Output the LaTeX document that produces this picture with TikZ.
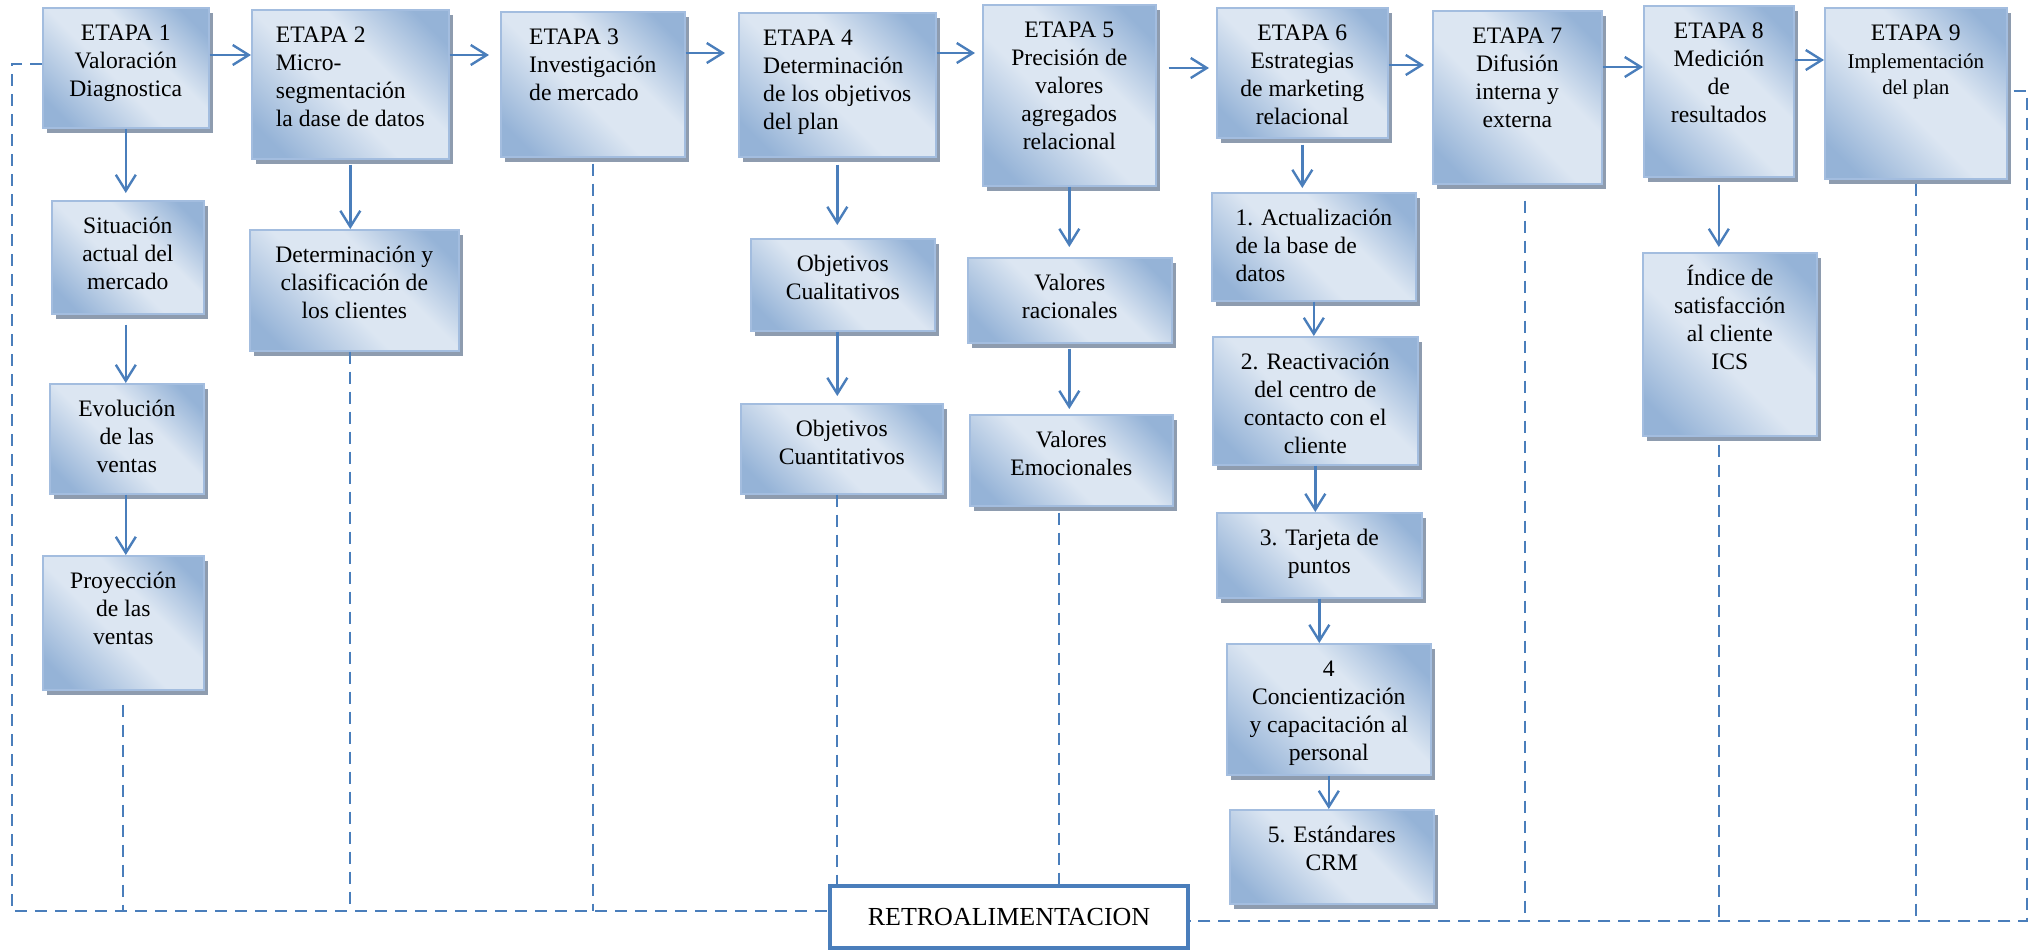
\documentclass[tikz,border=0pt]{standalone}
\usepackage{fontspec}
\setmainfont{Liberation Serif}
\usetikzlibrary{arrows.meta,positioning,shadows}
\definecolor{stdark}{HTML}{95B3D7}
\definecolor{stlight}{HTML}{DCE6F2}
\definecolor{stedge}{HTML}{A3BDDF}
\definecolor{stshadow}{HTML}{8E9CAF}
\definecolor{fbblue}{HTML}{4A7EBB}
\pgfdeclareverticalshading{stshade}{100bp}{color(0bp)=(stdark); color(22bp)=(stdark); color(45bp)=(stlight); color(60bp)=(stlight); color(78bp)=(stdark); color(100bp)=(stdark)}
\newcommand{\etapafont}{\fontsize{11.8}{14}\selectfont}
\newcommand{\smallfont}{\fontsize{10.5}{13}\selectfont}
\newcommand{\etapac}[1]{\begin{tabular}[t]{@{}c@{}}#1\end{tabular}}
\newcommand{\etapal}[1]{\begin{tabular}[t]{@{}l@{}}#1\end{tabular}}

\begin{document}
\begin{tikzpicture}[x=0.5pt,y=-0.5pt,
  st/.style={anchor=north west,draw=stedge,line width=0.8pt,shade,shading=stshade,shading angle=-45,
    drop shadow={shadow xshift=2pt,shadow yshift=-2.5pt,fill=stshadow,opacity=1},
    inner xsep=4pt,inner ysep=8pt,text height=8.5pt,font=\etapafont},
  arr/.style={-{Straight Barb[length=8pt,width=10pt]},line width=1.2pt,fbblue},
  fb/.style={fbblue,line width=1pt,dash pattern=on 6pt off 4pt}]
  \useasboundingbox (0,0) rectangle (2032,950);
  % etapas
  \node[st,minimum width=83pt,text depth=35.5pt] (e1) at (42,7) {\etapac{ETAPA 1\\Valoración\\Diagnostica}};
  \node[st,minimum width=98.5pt,text depth=50pt] (e2) at (251,9) {\etapal{ETAPA 2\\Micro-\\segmentación\\la dase de datos}};
  \node[st,minimum width=92pt,text depth=48pt] (e3) at (500,11) {\etapal{ETAPA 3\\Investigación\\de mercado}};
  \node[st,minimum width=98.5pt,text depth=47.5pt] (e4) at (738,12) {\etapal{ETAPA 4\\Determinación\\de los objetivos\\del plan}};
  \node[st,minimum width=86.5pt,text depth=66pt] (e5) at (982,4) {\etapac{ETAPA 5\\Precisión de\\valores\\agregados\\relacional}};
  \node[st,minimum width=85.5pt,text depth=40.5pt] (e6) at (1216,7) {\etapac{ETAPA 6\\Estrategias\\de marketing\\relacional}};
  \node[st,minimum width=84.5pt,text depth=62pt] (e7) at (1432,10) {\etapac{ETAPA 7\\Difusión\\interna y\\externa}};
  \node[st,minimum width=75pt,text depth=61pt] (e8) at (1643,5) {\etapac{ETAPA 8\\Medición\\de\\resultados}};
  \node[st,minimum width=91pt,text depth=61pt] (e9) at (1824,7) {\etapac{ETAPA 9\\\smallfont Implementación\\[-1pt]\smallfont del plan}};
  % columnas
  \node[st,minimum width=76pt,text depth=32pt] (sit) at (51,200) {\etapac{Situación\\actual del\\mercado}};
  \node[st,minimum width=77pt,text depth=30.5pt] (evol) at (49,383) {\etapac{Evolución\\de las\\ventas}};
  \node[st,minimum width=80.5pt,text depth=42.5pt] (proy) at (42,555) {\etapac{Proyección\\de las\\ventas}};
  \node[st,minimum width=104.5pt,text depth=36pt] (det) at (249,229) {\etapac{Determinación y\\clasificación de\\los clientes}};
  \node[st,minimum width=92pt,text depth=21.5pt] (cual) at (750,238) {\etapac{Objetivos\\Cualitativos}};
  \node[st,minimum width=101pt,text depth=20.5pt] (cuant) at (740,403) {\etapac{Objetivos\\Cuantitativos}};
  \node[st,minimum width=102pt,text depth=18pt] (rac) at (967,257) {\etapac{Valores\\racionales}};
  \node[st,minimum width=101.5pt,text depth=21pt] (emoc) at (969,414) {\etapac{Valores\\Emocionales}};
  \node[st,minimum width=102pt,text depth=29.5pt] (a1) at (1211,192) {\etapal{1. Actualización\\de la base de\\datos}};
  \node[st,minimum width=102.5pt,text depth=39.5pt] (a2) at (1212,336) {\etapac{2. Reactivación\\del centro de\\contacto con el\\cliente}};
  \node[st,minimum width=102.5pt,text depth=18pt] (a3) at (1216,512) {\etapac{3. Tarjeta de\\puntos}};
  \node[st,minimum width=102pt,text depth=41pt] (a4) at (1226,643) {\etapac{4\\Concientización\\y capacitación al\\personal}};
  \node[st,minimum width=102pt,text depth=22.5pt] (a5) at (1229,809) {\etapac{5. Estándares\\CRM}};
  \node[st,minimum width=87pt,text depth=67pt] (ind) at (1642,252) {\etapac{Índice de\\satisfacción\\al cliente\\ICS}};
  \node[draw=fbblue,line width=2pt,fill=white,minimum width=179pt,minimum height=31pt,
    font=\fontsize{13}{15}\selectfont] (retro) at (1009,917) {RETROALIMENTACION};
  % flechas entre etapas
  \draw[arr] (e1.east |- 0,55) -- (e2.west |- 0,55);
  \draw[arr,shorten >=5.5pt] (e2.east |- 0,55) -- (e3.west |- 0,55);
  \draw[arr,shorten >=6.5pt] (e3.east |- 0,53) -- (e4.west |- 0,53);
  \draw[arr,shorten >=3.5pt] (e4.east |- 0,53) -- (e5.west |- 0,53);
  \draw[arr,shorten <=6pt,shorten >=3.5pt] (e5.east |- 0,68) -- (e6.west |- 0,68);
  \draw[arr,shorten >=4pt] (e6.east |- 0,65) -- (e7.west |- 0,65);
  \draw[arr] (e7.east |- 0,67) -- (e8.west |- 0,67);
  \draw[arr] (e8.east |- 0,60) -- (e9.west |- 0,60);
  % flechas hacia abajo
  \draw[arr,shorten >=3.5pt] (e1.south) -- (e1.south |- sit.north);
  \draw[arr,shorten <=5pt] (e1.south |- sit.south) -- (e1.south |- evol.north);
  \draw[arr] (e1.south |- evol.south) -- (e1.south |- proy.north);
  \draw[arr,shorten <=2.5pt] (e2.south) -- (e2.south |- det.north);
  \draw[arr,shorten <=3.5pt,shorten >=6.5pt] (e4.south) -- (e4.south |- cual.north);
  \draw[arr,shorten >=3.5pt] (e4.south |- cual.south) -- (e4.south |- cuant.north);
  \draw[arr,shorten >=5pt] (e5.south) -- (e5.south |- rac.north);
  \draw[arr,shorten <=2.5pt,shorten >=2.5pt] (e5.south |- rac.south) -- (e5.south |- emoc.north);
  \draw[arr,shorten <=3pt,shorten >=2pt] (e6.south) -- (e6.south |- a1.north);
  \draw[arr] (a1.south) -- (a1.south |- a2.north);
  \draw[arr] (a2.south) -- (a2.south |- a3.north);
  \draw[arr] (a3.south) -- (a3.south |- a4.north);
  \draw[arr] (a4.south) -- (a4.south |- a5.north);
  \draw[arr,shorten <=3.5pt,shorten >=2.5pt] (e8.south) -- (e8.south |- ind.north);
  % retroalimentacion
  \coordinate (fbtl) at (12,64);
  \coordinate (fbbl) at (12,911);
  \coordinate (fbtr) at (2027,91);
  \coordinate (fbbr) at (2027,921);
  \draw[fb] (e1.west |- fbtl) -- (fbtl) -- (fbbl) -- (retro.west |- fbbl);
  \draw[fb,shorten <=3pt] (e9.east |- fbtr) -- (fbtr) -- (fbbr) -- (retro.east |- fbbr);
  \draw[fb,shorten <=7pt] (proy.south) -- (proy.south |- fbbl);
  \draw[fb] (e2.south |- det.south) -- (e2.south |- fbbl);
  \draw[fb,shorten <=3pt] (e3.south) -- (e3.south |- fbbl);
  \draw[fb] (e4.south |- cuant.south) -- (e4.south |- retro.north);
  \draw[fb,shorten <=3pt] ([xshift=-6pt]emoc.south) -- ([xshift=-6pt]emoc.south |- retro.north);
  \draw[fb,shorten <=8pt] ([xshift=4pt]e7.south) -- ([xshift=4pt]e7.south |- fbbr);
  \draw[fb,shorten <=4pt] (e8.south |- ind.south) -- (e8.south |- fbbr);
  \draw[fb,shorten <=2pt] (e9.south) -- (e9.south |- fbbr);
\end{tikzpicture}
\end{document}
